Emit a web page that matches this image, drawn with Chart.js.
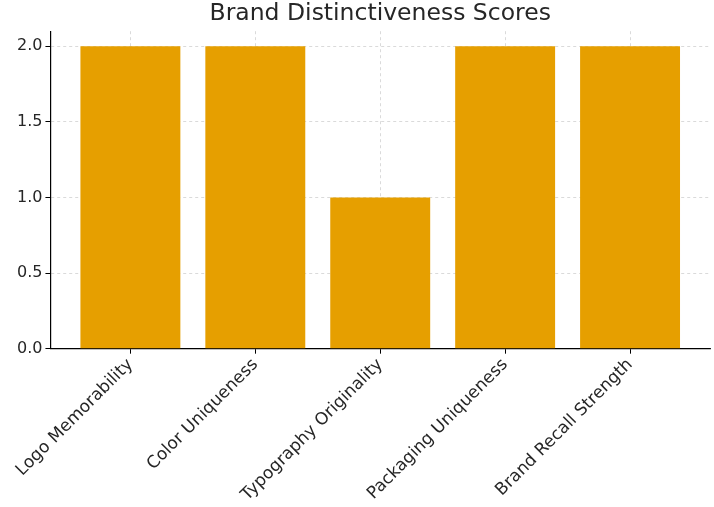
<!DOCTYPE html>
<html>
<head>
<meta charset="utf-8">
<script src="https://cdn.jsdelivr.net/npm/chart.js@4"></script>
<style>
  html, body { margin: 0; padding: 0; background: #fff; }
  #wrap { width: 714px; height: 507px; }
</style>
</head>
<body>
<div id="wrap"><canvas id="chart"></canvas></div>
<script>
const categories = ['Logo Memorability', 'Color Uniqueness', 'Typography Originality', 'Packaging Uniqueness', 'Brand Recall Strength'];
const scores = [2, 2, 1, 2, 2];
const yTicks = [0, 0.5, 1, 1.5, 2];

const yFont = { family: 'DejaVu Sans', size: 16 };
const xFont = { family: 'DejaVu Sans', size: 17 };

new Chart(document.querySelector('#chart'), {
    type: 'bar',
    data: {
        datasets: [{
            data: scores.map((v, i) => ({ x: i, y: v })),
            backgroundColor: '#E69F00',
            barPercentage: 0.8,
            categoryPercentage: 1
        }]
    },
    options: {
        responsive: true,
        maintainAspectRatio: false,
        animation: false,
        layout: { padding: { top: 0, right: 4, bottom: 1, left: 14 } },
        plugins: {
            legend: { display: false },
            tooltip: { enabled: false },
            title: {
                display: true,
                fullSize: false,
                text: 'Brand Distinctiveness Scores',
                color: '#262626',
                font: { family: 'DejaVu Sans', size: 23.5, weight: 'normal' },
                padding: { top: 0, bottom: 3 }
            }
        },
        scales: {
            x: {
                type: 'linear',
                min: -0.64,
                max: 4.64,
                offset: false,
                z: 1,
                afterBuildTicks: s => { s.ticks = categories.map((c, i) => ({ value: i })); },
                ticks: {
                    callback: v => categories[v],
                    color: '#262626',
                    font: xFont,
                    minRotation: 45,
                    maxRotation: 45,
                    padding: 1
                },
                grid: {
                    offset: false,
                    color: 'rgba(170,170,170,0.55)',
                    lineWidth: 0.8,
                    tickLength: 5,
                    tickColor: '#000',
                    tickWidth: 1
                },
                border: { display: true, color: '#000', width: 1.2, dash: [3, 3] }
            },
            y: {
                min: 0,
                max: 2.1,
                z: 1,
                afterBuildTicks: s => { s.ticks = yTicks.map(v => ({ value: v })); },
                ticks: {
                    callback: v => v.toFixed(1),
                    color: '#262626',
                    font: yFont,
                    padding: 3
                },
                grid: {
                    color: 'rgba(170,170,170,0.55)',
                    lineWidth: 0.8,
                    tickLength: 5,
                    tickColor: '#000',
                    tickWidth: 1
                },
                border: { display: true, color: '#000', width: 1.2, dash: [3, 3] }
            }
        }
    }
});
</script>
</body>
</html>
